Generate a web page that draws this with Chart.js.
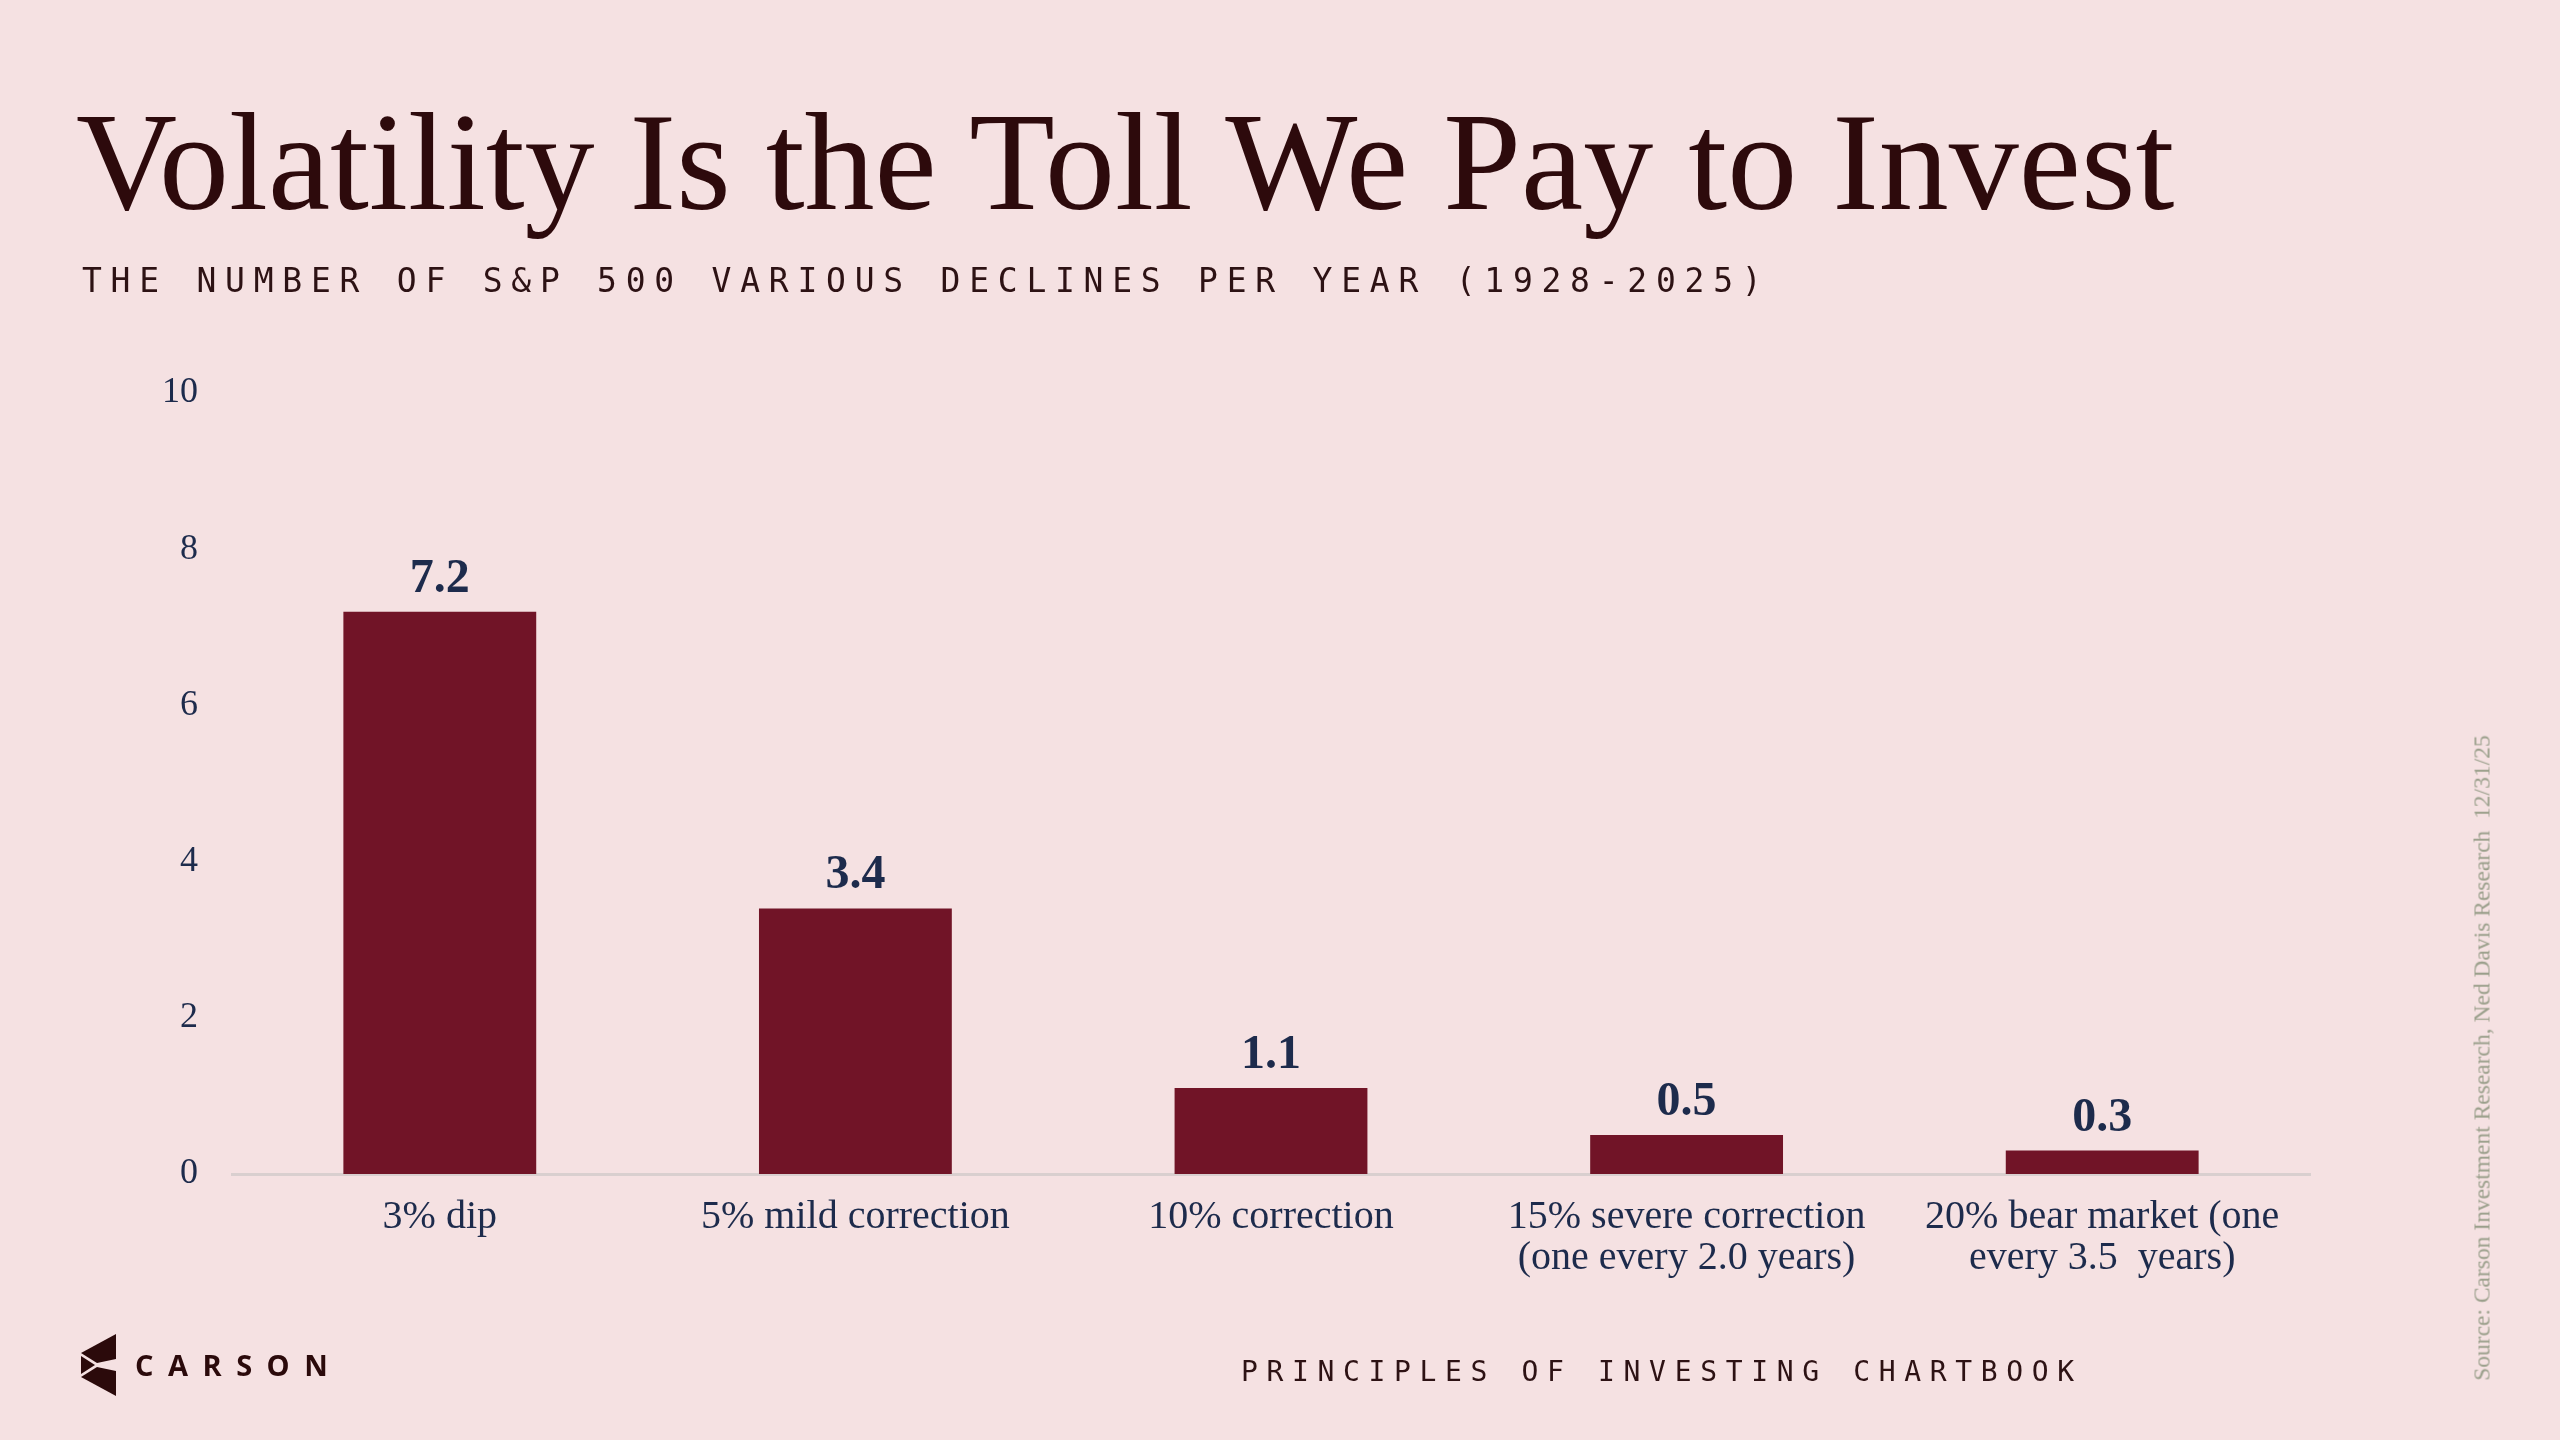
<!DOCTYPE html>
<html>
<head>
<meta charset="utf-8">
<script src="https://cdn.jsdelivr.net/npm/chart.js@4.4.1/dist/chart.umd.min.js"></script>
<style>
  html, body { margin: 0; padding: 0; background: #f5e1e2; }
  #page { position: relative; width: 2560px; height: 1440px; overflow: hidden; background: #f5e1e2; }
  #chartBox { position: absolute; left: 0; top: 0; width: 2560px; height: 1440px; }
  .title { position: absolute; left: 76px; top: 92px; font-family: "Liberation Serif", serif; font-size: 140px; line-height: 1; color: #2d0a0c; white-space: nowrap; }
  .subtitle { position: absolute; left: 82px; top: 264px; font-family: "DejaVu Sans Mono", monospace; font-size: 33px; line-height: 1; letter-spacing: 8.75px; color: #2d1214; white-space: nowrap; }
  .footer { position: absolute; left: 1241px; top: 1358px; font-family: "DejaVu Sans Mono", monospace; font-size: 28px; line-height: 1; letter-spacing: 8.65px; color: #2d1214; white-space: nowrap; }
  .brand { position: absolute; left: 135px; top: 1350px; font-family: "Open Sans", sans-serif; font-weight: 700; font-size: 29px; line-height: 1; letter-spacing: 14.5px; color: #2b0a0b; white-space: nowrap; }
  .logo { position: absolute; left: 79px; top: 1333px; }
  .source { position: absolute; left: 2482px; top: 1058px; transform: translate(-50%, -50%) rotate(-90deg); font-family: "Liberation Serif", serif; font-size: 23.5px; color: #9a9f8b; white-space: pre; }
</style>
</head>
<body>
<div id="page">
  <div id="chartBox"><canvas id="declinesChart"></canvas></div>
  <div class="title">Volatility Is the Toll We Pay to Invest</div>
  <div class="subtitle">THE NUMBER OF S&amp;P 500 VARIOUS DECLINES PER YEAR (1928-2025)</div>
  <svg class="logo" width="40" height="64" viewBox="0 0 40 64">
    <polygon points="37,1 2,20 18,30 37,26" fill="#2b0a0b"/>
    <polygon points="2,23 16,32 2,41" fill="#2b0a0b"/>
    <polygon points="18,34 37,38 37,63 2,44" fill="#2b0a0b"/>
  </svg>
  <div class="brand">CARSON</div>
  <div class="footer">PRINCIPLES OF INVESTING CHARTBOOK</div>
  <div class="source">Source: Carson Investment Research, Ned Davis Research  12/31/25</div>
</div>
<script>
const categories = [
  '3% dip',
  '5% mild correction',
  '10% correction',
  ['15% severe correction', '(one every 2.0 years)'],
  ['20% bear market (one', 'every 3.5  years)']
];
const declinesPerYear = [7.2, 3.4, 1.1, 0.5, 0.3];
const yTicks = [0, 2, 4, 6, 8, 10];

const navy = '#1d2b4c';

// value labels above each bar
const barValueLabels = {
  id: 'barValueLabels',
  afterDatasetsDraw(chart) {
    const ctx = chart.ctx;
    const meta = chart.getDatasetMeta(0);
    ctx.save();
    ctx.font = 'bold 48px "Liberation Serif", serif';
    ctx.fillStyle = navy;
    ctx.textAlign = 'center';
    ctx.textBaseline = 'alphabetic';
    meta.data.forEach((bar, i) => {
      ctx.fillText(declinesPerYear[i].toFixed(1), bar.x, bar.y - 20);
    });
    ctx.restore();
  }
};

const ctx = document.getElementById('declinesChart');
new Chart(ctx, {
  type: 'bar',
  data: {
    labels: categories,
    datasets: [{
      label: 'Declines per year',
      data: declinesPerYear,
      backgroundColor: '#711427',
      borderWidth: 0,
      categoryPercentage: 1,
      barPercentage: 0.464
    }]
  },
  options: {
    responsive: true,
    maintainAspectRatio: false,
    animation: false,
    layout: { padding: { left: 100, right: 250, top: 393, bottom: 146 } },
    scales: {
      x: {
        grid: { display: false, drawTicks: false },
        border: { display: true, color: '#d9cfcf', width: 3 },
        ticks: {
          color: navy,
          padding: 23,
          maxRotation: 0,
          autoSkip: false,
          font: { family: '"Liberation Serif", serif', size: 40, lineHeight: 1.03 }
        },
        afterFit: (s) => { s.height = 120; }
      },
      y: {
        min: 0,
        max: 10,
        grid: { display: false, drawTicks: false },
        border: { display: false },
        afterBuildTicks: (s) => { s.ticks = yTicks.map(v => ({ value: v })); },
        ticks: {
          color: navy,
          padding: 34,
          font: { family: '"Liberation Serif", serif', size: 36 }
        },
        afterFit: (s) => { s.width = 132; }
      }
    },
    plugins: {
      legend: { display: false },
      tooltip: { enabled: false }
    }
  },
  plugins: [barValueLabels]
});
</script>
</body>
</html>
